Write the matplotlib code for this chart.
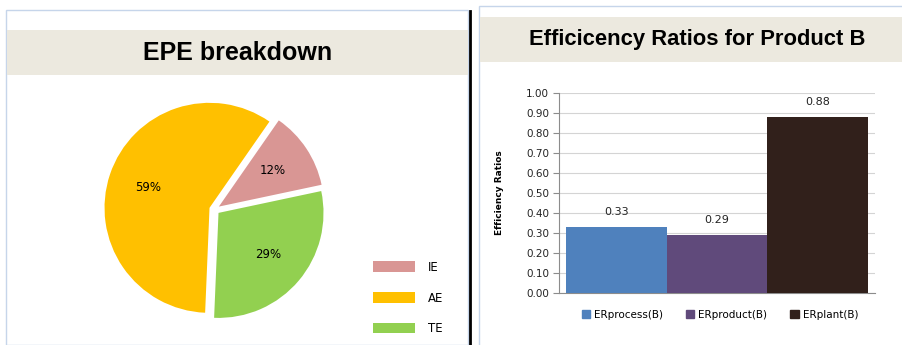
import matplotlib.pyplot as plt
from matplotlib.patches import Rectangle
from matplotlib.lines import Line2D

# pie data
pie_labels = ['IE', 'AE', 'TE']
pie_values = [12, 59, 29]
pie_colors = ['#d99694', '#ffc000', '#92d050']

# bar data
bar_labels = ['ERprocess(B)', 'ERproduct(B)', 'ERplant(B)']
bar_values = [0.33, 0.29, 0.88]
bar_colors = ['#4f81bd', '#604a7b', '#31201b']
y_ticks = [0.0, 0.1, 0.2, 0.3, 0.4, 0.5, 0.6, 0.7, 0.8, 0.9, 1.0]

W, H = 902, 345
fig = plt.figure(figsize=(W / 100, H / 100), dpi=100)


def box(x0, y0, x1, y1):
    # pixel box (top-left origin) -> figure fraction rect
    return [x0 / W, 1 - y1 / H, (x1 - x0) / W, (y1 - y0) / H]


# panel frames and title bands, kept behind the axes
border = '#c6d5ea'
band = '#ece9df'
fig.patches.append(Rectangle((6 / W, 0), (468 - 6) / W, 1 - 10 / H, transform=fig.transFigure,
                             facecolor='white', edgecolor=border, lw=1, zorder=-5))
fig.patches.append(Rectangle((7 / W, 1 - 75 / H), (468 - 7) / W, 45 / H, transform=fig.transFigure,
                             facecolor=band, edgecolor='none', zorder=-4))
fig.patches.append(Rectangle((479 / W, -0.1), 1, 1.1 - 6 / H, transform=fig.transFigure,
                             facecolor='white', edgecolor=border, lw=1, zorder=-5))
fig.patches.append(Rectangle((480 / W, 1 - 62 / H), 1, 45 / H, transform=fig.transFigure,
                             facecolor=band, edgecolor='none', zorder=-4))
fig.lines.append(Line2D([470 / W, 470 / W], [0, 1 - 11 / H], transform=fig.transFigure,
                        color='black', lw=2, zorder=-3))

fig.text(238 / W, 1 - 53 / H, 'EPE breakdown', ha='center', va='center',
         fontsize=18, fontweight='bold', family='Liberation Sans')
fig.text(697 / W, 1 - 39 / H, 'Efficicency Ratios for Product B', ha='center', va='center',
         fontsize=15.8, fontweight='bold', family='Liberation Sans')

# pie chart
ax1 = fig.add_axes(box(78, 73, 351, 346))
wedges, texts, autotexts = ax1.pie(pie_values, colors=pie_colors, startangle=12,
                                   explode=[0.05, 0.05, 0.05], autopct='%1.0f%%',
                                   pctdistance=0.62,
                                   textprops={'fontsize': 8.5, 'color': 'black'})
ax1.set_xlim(-1.3, 1.3)
ax1.set_ylim(-1.3, 1.3)
ax1.legend(wedges, pie_labels, loc='center left', bbox_to_anchor=(362 / W, 1 - 298 / H),
           bbox_transform=fig.transFigure, frameon=False, fontsize=8.5,
           handlelength=3.6, handleheight=1.0, labelspacing=1.5, handletextpad=1.1)

# bar chart
ax2 = fig.add_axes(box(559, 93, 875, 293))
ax2.patch.set_alpha(0)
x = range(len(bar_values))
bars = ax2.bar(x, bar_values, width=1.0, color=bar_colors, zorder=3)
ax2.bar_label(bars, fmt='%.2f', padding=7, fontsize=8, color='#222222')
ax2.set_xlim(-0.57, 2.57)
ax2.set_ylim(0, 1.0)
ax2.set_yticks(y_ticks)
ax2.set_yticklabels(['%.2f' % v for v in y_ticks], fontsize=7.5, color='#222222')
ax2.set_xticks([])
ax2.grid(axis='y', color='#d4d4d4', lw=0.8, zorder=0)
for s in ['top', 'right']:
    ax2.spines[s].set_visible(False)
for s in ['left', 'bottom']:
    ax2.spines[s].set_color('#8c8c8c')
ax2.tick_params(axis='y', length=4, color='#8c8c8c', pad=3)
ax2.set_ylabel('Efficiency Ratios', fontsize=6.5, fontweight='bold')
ax2.yaxis.set_label_coords(-0.174, 0.5)

handles = [Rectangle((0, 0), 1, 1, color=c) for c in bar_colors]
fig.legend(handles, bar_labels, loc='center', bbox_to_anchor=(720 / W, 1 - 315 / H),
           ncol=3, frameon=False, fontsize=7.5, handlelength=0.8, handleheight=0.8,
           handletextpad=0.4, columnspacing=2.2)

fig.savefig('out.png', dpi=100)
